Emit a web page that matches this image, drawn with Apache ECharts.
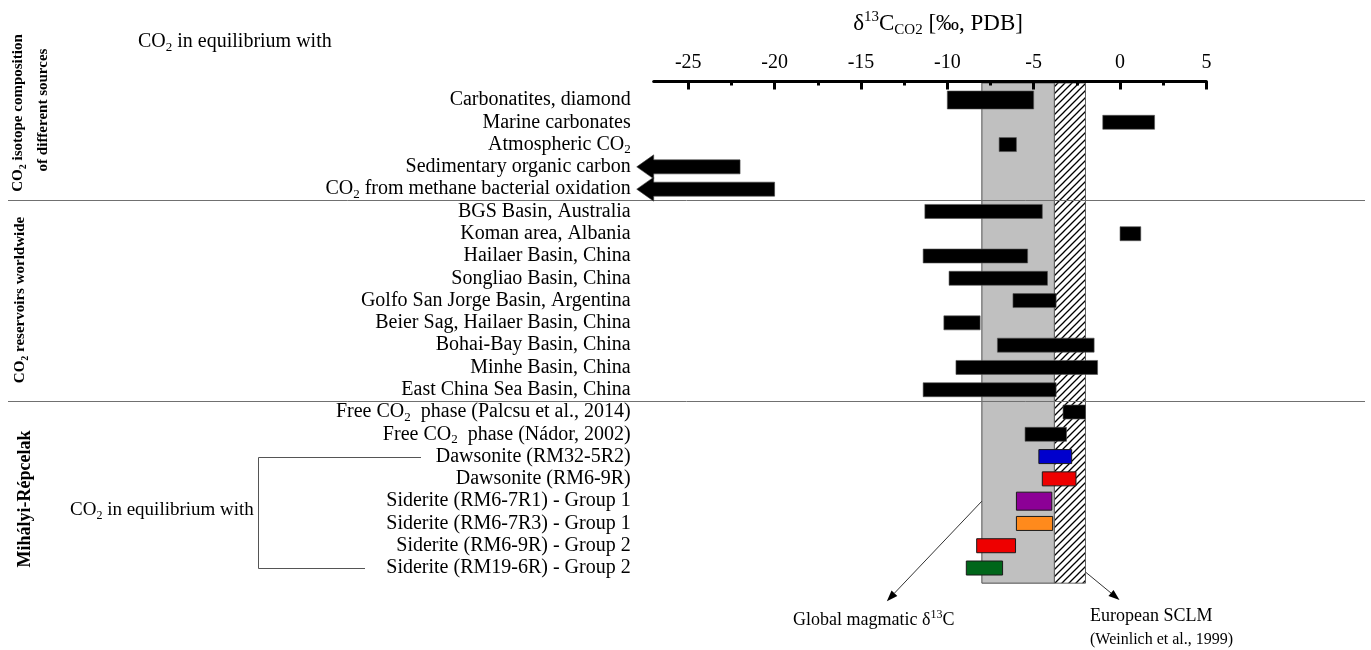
<!DOCTYPE html>
<html><head><meta charset="utf-8">
<script src="https://cdn.jsdelivr.net/npm/echarts@6/dist/echarts.min.js"></script>
<style>html,body{margin:0;padding:0;background:#fff}#c{width:1371px;height:650px}</style>
</head><body><div id="c"></div>
<script>
// ---------- data ----------
const categories = [
  'Carbonatites, diamond','Marine carbonates','Atmospheric CO2','Sedimentary organic carbon',
  'CO2 from methane bacterial oxidation','BGS Basin, Australia','Koman area, Albania',
  'Hailaer Basin, China','Songliao Basin, China','Golfo San Jorge Basin, Argentina',
  'Beier Sag, Hailaer Basin, China','Bohai-Bay Basin, China','Minhe Basin, China',
  'East China Sea Basin, China','Free CO2  phase (Palcsu et al., 2014)','Free CO2  phase (Nádor, 2002)',
  'Dawsonite (RM32-5R2)','Dawsonite (RM6-9R)','Siderite (RM6-7R1) - Group 1',
  'Siderite (RM6-7R3) - Group 1','Siderite (RM6-9R) - Group 2','Siderite (RM19-6R) - Group 2'
];
// null low = open-ended range (value lower than the axis), drawn as arrow
const lowValues  = [-10, -1, -7, null, null, -11.3, 0, -11.4, -9.9, -6.2, -10.2, -7.1, -9.5, -11.4, -3.3, -5.5, -4.7, -4.5, -6.0, -6.0, -8.3, -8.9];
const highValues = [-5, 2, -6, -22, -20, -4.5, 1.2, -5.35, -4.2, -3.7, -8.1, -1.5, -1.3, -3.7, -2.0, -3.1, -2.8, -2.55, -3.95, -3.9, -6.05, -6.8];
const bandNames = ['Global magmatic', 'European SCLM'];
const bandLow  = [-8, -3.8];
const bandHigh = [-3.8, -2];
const majorTicks = [-25, -20, -15, -10, -5, 0, 5];
const minorTicks = [-22.5, -17.5, -12.5, -7.5, -2.5, 2.5];
const xMin = -27, xMax = 5;
const separatorAfterRows = [4, 13];

// ---------- styles ----------
const F = 'Liberation Serif';
const barColors = categories.map((c, i) => i < 16 ? '#000000' : null);
barColors[16] = '#0000CD'; barColors[17] = '#EE0000'; barColors[18] = '#8C0096';
barColors[19] = '#FF8A1C'; barColors[20] = '#EE0000'; barColors[21] = '#00661A';
const tallRows = {0: true, 18: true};

function rt(str, t, s) {
  return str.split('CO2').map(p => p ? '{' + t + '|' + p + '}' : '').join('{' + t + '|CO}{' + s + '|2}');
}

const pc = document.createElement('canvas'); pc.width = 7; pc.height = 7;
const g = pc.getContext('2d');
g.fillStyle = '#fff'; g.fillRect(0, 0, 7, 7);
g.strokeStyle = '#000'; g.lineWidth = 1.3;
g.beginPath(); g.moveTo(0, 7); g.lineTo(7, 0); g.moveTo(-1, 1); g.lineTo(1, -1); g.moveTo(6, 8); g.lineTo(8, 6); g.stroke();

const AXIS_OFFSET = 7.4;
const chart = echarts.init(document.getElementById('c'), null, {renderer: 'canvas'});

const option = {
  animation: false,
  backgroundColor: '#fff',
  grid: {left: 653.7, right: 164.6, top: 88.86, height: 490.3, containLabel: false, outerBoundsMode: 'none'},
  xAxis: [{
    type: 'value', position: 'top', min: xMin, max: xMax, offset: AXIS_OFFSET, z: 10,
    name: '{d|δ}{sup|13}{d|C}{sub|CO2}{d| [‰, PDB]}',
    nameLocation: 'middle', nameGap: 44,
    nameTextStyle: {
      padding: [0, 0, 0, 16],
      rich: {
        d: {fontFamily: F, fontSize: 23, color: '#000', lineHeight: 28},
        sup: {fontFamily: F, fontSize: 15, color: '#000', lineHeight: 28, verticalAlign: 'top'},
        sub: {fontFamily: F, fontSize: 15, color: '#000', lineHeight: 28, verticalAlign: 'bottom'}
      }
    },
    splitLine: {show: false},
    axisLine: {show: true, lineStyle: {color: '#000', width: 3}},
    axisTick: {show: true, inside: true, length: 8, lineStyle: {color: '#000', width: 3}, customValues: majorTicks},
    axisLabel: {show: true, margin: 9, fontFamily: F, fontSize: 20, color: '#000', customValues: majorTicks},
    minorTick: {show: false}
  }, {
    type: 'value', position: 'top', min: xMin, max: xMax, offset: AXIS_OFFSET, z: 10,
    splitLine: {show: false},
    axisLine: {show: false},
    axisTick: {show: true, inside: true, length: 4, lineStyle: {color: '#000', width: 3}, customValues: minorTicks},
    axisLabel: {show: false}
  }],
  yAxis: {
    type: 'category', inverse: true, data: categories,
    axisLine: {show: false}, axisTick: {show: false}, splitLine: {show: false},
    axisLabel: {
      interval: 0, margin: 23,
      formatter: v => rt(v, 't', 's'),
      rich: {
        t: {fontFamily: F, fontSize: 20, color: '#000', lineHeight: 24},
        s: {fontFamily: F, fontSize: 13, color: '#000', lineHeight: 24, verticalAlign: 'bottom'}
      }
    }
  },
  series: [{
    type: 'custom', name: 'bands', clip: false, z: 1,
    data: bandNames.map((n, i) => [bandLow[i], bandHigh[i], i]),
    renderItem: (params, api) => {
      const cs = params.coordSys;
      const x0 = api.coord([api.value(0), 0])[0];
      const x1 = api.coord([api.value(1), 0])[0];
      const top = cs.y - AXIS_OFFSET + 1.5;
      const bottom = cs.y + cs.height + 4;
      const i = api.value(2);
      return {
        type: 'rect',
        shape: {x: x0, y: top, width: x1 - x0, height: bottom - top},
        style: i === 0 ? {fill: '#C0C0C0', stroke: '#505050', lineWidth: 1}
                       : {fill: {image: pc, repeat: 'repeat'}, stroke: '#606060', lineWidth: 1}
      };
    }
  }, {
    type: 'custom', name: 'separators', clip: false, z: 1,
    data: separatorAfterRows.map(r => [r]),
    renderItem: (params, api) => {
      const r = api.value(0);
      const y = Math.round((api.coord([0, r])[1] + api.coord([0, r + 1])[1]) / 2) + 0.5;
      return {type: 'line', shape: {x1: 8, y1: y, x2: 1365, y2: y}, style: {stroke: '#707070', lineWidth: 1}};
    }
  }, {
    type: 'custom', name: 'ranges', clip: false, z: 3,
    data: categories.map((c, i) => [i, highValues[i]]),
    renderItem: (params, api) => {
      const i = params.dataIndex;
      const row = api.value(0);
      const hi = api.value(1);
      const lo = lowValues[i];
      const y = api.coord([0, row])[1];
      const h = tallRows[i] ? 18 : 14;
      const col = barColors[i];
      const xr = api.coord([hi, row])[0];
      if (lo === null) {
        const xb = api.coord([xMin, row])[0];
        const tip = xb - 17;
        return {
          type: 'polygon',
          shape: {points: [[xr, y - h / 2], [xr, y + h / 2], [xb, y + h / 2], [xb, y + 12], [tip, y], [xb, y - 12], [xb, y - h / 2]]},
          style: {fill: col, stroke: '#444', lineWidth: 0.6}
        };
      }
      const xl = api.coord([lo, row])[0];
      return {
        type: 'rect',
        shape: {x: xl, y: y - h / 2, width: xr - xl, height: h},
        style: {fill: col, stroke: col === '#000000' ? '#555' : '#1a1a1a', lineWidth: col === '#000000' ? 0.6 : 1}
      };
    }
  }]
};
chart.setOption(option);

// ---------- annotations ----------
const px = v => chart.convertToPixel({xAxisIndex: 0}, v);
const py = r => chart.convertToPixel({yAxisIndex: 0}, r);
function arrow(x0, y0, x1, y1) {
  const a = Math.atan2(y1 - y0, x1 - x0), L = 11, W = 4;
  const bx = x1 - L * Math.cos(a), by = y1 - L * Math.sin(a);
  return [
    {type: 'line', shape: {x1: x0, y1: y0, x2: bx, y2: by}, style: {stroke: '#333', lineWidth: 1}, z: 20},
    {type: 'polygon', shape: {points: [[x1, y1], [bx + W * Math.sin(a), by - W * Math.cos(a)], [bx - W * Math.sin(a), by + W * Math.cos(a)]]}, style: {fill: '#000'}, z: 20}
  ];
}
const txt = (x, y, text, rich, extra) => Object.assign({
  type: 'text', x: x, y: y, z: 20,
  style: Object.assign({text: text, rich: rich, fill: '#000', align: 'left', verticalAlign: 'middle'}, (extra && extra.style) || {})
}, extra && extra.rotation !== undefined ? {rotation: extra.rotation} : {});

const richN = (fs) => ({
  t: {fontFamily: F, fontSize: fs, color: '#000', lineHeight: fs + 5},
  s: {fontFamily: F, fontSize: Math.round(fs * 0.65), color: '#000', lineHeight: fs + 5, verticalAlign: 'bottom'},
  u: {fontFamily: F, fontSize: Math.round(fs * 0.65), color: '#000', lineHeight: fs + 5, verticalAlign: 'top'}
});
const richB = (fs, color) => ({
  t: {fontFamily: F, fontSize: fs, fontWeight: 'bold', color: color, lineHeight: fs + 5},
  s: {fontFamily: F, fontSize: Math.round(fs * 0.65), fontWeight: 'bold', color: color, lineHeight: fs + 5, verticalAlign: 'bottom'}
});

const yG = py(18), ySC = py(21);
const graphics = [].concat(
  arrow(px(bandLow[0]), yG, px(bandLow[0]) - 95, yG + 100),
  arrow(px(bandHigh[1]), ySC + 4, px(bandHigh[1]) + 34, ySC + 32),
  [
    txt(793, 620, '{t|' + bandNames[0] + ' δ}{u|13}{t|C}', richN(18)),
    txt(1090, 616, '{t|' + bandNames[1] + '}', richN(18)),
    txt(1090, 640, '{t|(Weinlich et al., 1999)}', richN(16)),
    txt(138, 42, rt('CO2 in equilibrium with', 't', 's'), richN(20)),
    txt(70, 510, rt('CO2 in equilibrium with', 't', 's'), richN(19)),
    txt(18, 113, rt('CO2 isotope composition', 't', 's'), richB(15, '#000'), {rotation: Math.PI / 2, style: {align: 'center'}}),
    txt(43, 110, '{t|of different sources}', richB(15, '#000'), {rotation: Math.PI / 2, style: {align: 'center'}}),
    txt(20, 300, rt('CO2 reservoirs worldwide', 't', 's'), richB(15, '#000'), {rotation: Math.PI / 2, style: {align: 'center'}}),
    txt(25, 499, '{t|Mihályi-Répcelak}', richB(18, '#FF0000'), {rotation: Math.PI / 2, style: {align: 'center'}}),
    {type: 'polyline', z: 20, shape: {points: [[421, Math.round(py(16)) + 0.5], [258.5, Math.round(py(16)) + 0.5], [258.5, Math.round(py(21)) + 0.5], [365, Math.round(py(21)) + 0.5]]},
     style: {stroke: '#555', lineWidth: 1, fill: null}}
  ]
);
chart.setOption({graphic: graphics});
</script>
</body></html>
